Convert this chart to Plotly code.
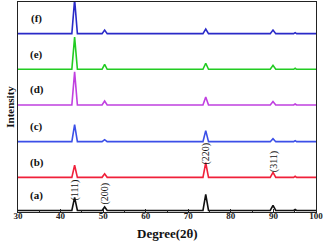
import plotly.graph_objects as go

# Shared 2-theta vertices (baseline - apex - baseline for each reflection)
two_theta = [30, 42.65, 43.3, 43.95, 49.75, 50.35, 50.95, 73.45, 74.1, 74.75,
             89.25, 89.9, 90.55, 94.75, 95.1, 95.45, 100]

sample_labels = ["(a)", "(b)", "(c)", "(d)", "(e)", "(f)"]
offsets = [1.5, 34.5, 70, 106.5, 142, 177.5]
colors = ["#111111", "#f0203a", "#3b4fe8", "#c040e0", "#22cc22", "#2a2ac8"]

# apex heights per reflection: 111, 200, 220, 311, (95 deg)
peaks = {
    "(a)": [13, 3.5, 16, 5, 1],
    "(b)": [12, 3.5, 14.5, 5, 1],
    "(c)": [17, 2, 11, 3, 1],
    "(d)": [33, 4, 8, 3.5, 1],
    "(e)": [32, 5, 6, 4, 1],
    "(f)": [34, 3.5, 4.5, 3.5, 1],
}

hkl_labels = ["(111)", "(200)", "(220)", "(311)"]
hkl_x = [43.3, 50.35, 74.1, 90.0]
hkl_y = [22, 18, 58, 50]

x_ticks = [30, 40, 50, 60, 70, 80, 90, 100]
x_title = "Degree(2θ)"
y_title = "Intensity"

fig = go.Figure()
for lab, off, col in zip(sample_labels, offsets, colors):
    h = peaks[lab]
    ys = [0, 0, h[0], 0, 0, h[1], 0, 0, h[2], 0, 0, h[3], 0, 0, h[4], 0, 0]
    fig.add_trace(go.Scatter(x=two_theta, y=[v + off for v in ys], mode="lines",
                             line=dict(color=col, width=1.6), showlegend=False,
                             hoverinfo="skip"))
    fig.add_annotation(x=34.4, y=off + 15, text="<b>%s</b>" % lab, showarrow=False,
                       font=dict(family="Liberation Serif", size=11, color="#111"))

for t, xx, yy in zip(hkl_labels, hkl_x, hkl_y):
    fig.add_annotation(x=xx, y=yy, text=t, textangle=-90, showarrow=False,
                       font=dict(family="Liberation Serif", size=10, color="#111"))

fig.add_annotation(xref="paper", yref="paper", x=0.5, y=-0.1, yanchor="middle",
                   text="<b>%s</b>" % x_title, showarrow=False,
                   font=dict(family="Liberation Serif", size=13, color="#111"))

fig.update_layout(
    width=325, height=242,
    margin=dict(l=18, r=9, t=2, b=30),
    plot_bgcolor="white", paper_bgcolor="white",
)
fig.update_xaxes(range=[30, 100], tickvals=x_ticks,
                 ticktext=["<b>%d</b>" % v for v in x_ticks],
                 ticks="inside", ticklen=3, tickwidth=1, tickcolor="#222",
                 minor=dict(dtick=5, ticks="inside", ticklen=2, tickcolor="#222"),
                 showline=True, linecolor="#222", linewidth=1.2, mirror=True,
                 showgrid=False, zeroline=False, automargin=False,
                 ticklabelstandoff=-5,
                 tickfont=dict(family="Liberation Serif", size=9, color="#222"))
fig.update_yaxes(range=[0, 209], showticklabels=False, ticks="",
                 showline=True, linecolor="#222", linewidth=1.2, mirror=True,
                 showgrid=False, zeroline=False, automargin=False,
                 title=dict(text="<b>%s</b>" % y_title, standoff=0,
                            font=dict(family="Liberation Serif", size=11, color="#111")))

fig.write_html("out.html", config={"displayModeBar": False},
               post_script="document.body.style.margin='0';document.body.style.overflow='hidden';")
